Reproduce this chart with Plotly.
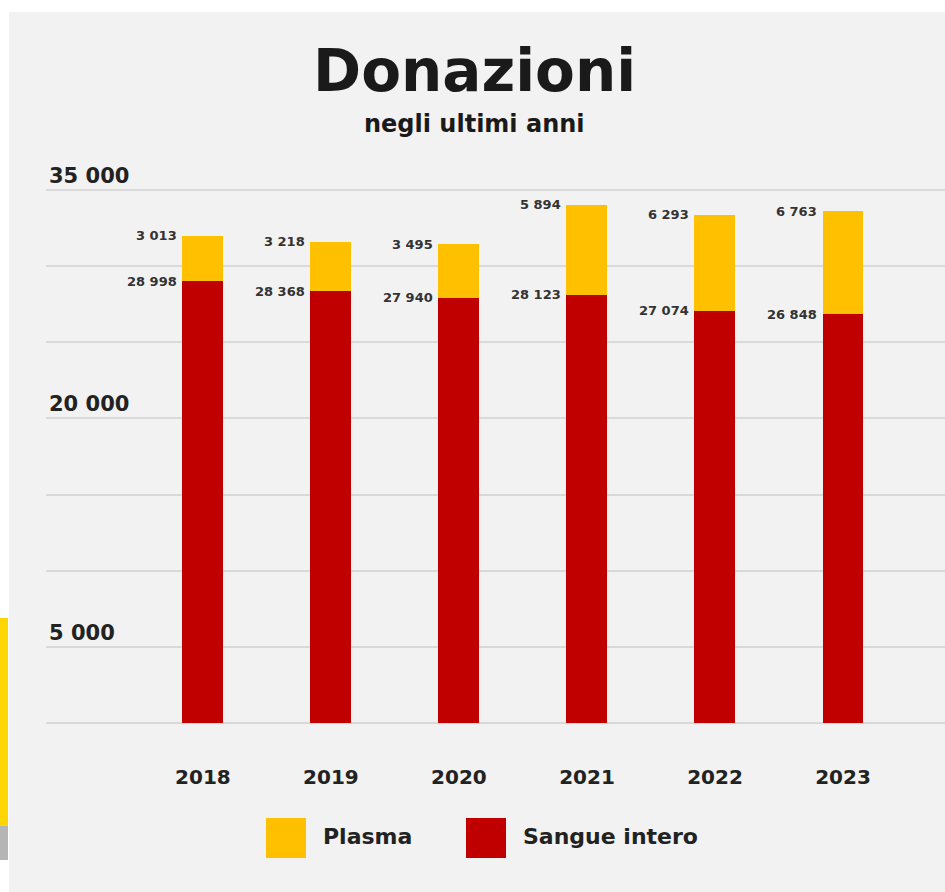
import plotly.graph_objects as go

# ---- data ----
years = ["2018", "2019", "2020", "2021", "2022", "2023"]
sangue_intero = [28998, 28368, 27940, 28123, 27074, 26848]
plasma = [3013, 3218, 3495, 5894, 6293, 6763]
series_names = ["Plasma", "Sangue intero"]
y_tick_vals = [0, 5000, 10000, 15000, 20000, 25000, 30000, 35000]
y_tick_text = ["", "5 000", "", "", "20 000", "", "", "35 000"]

RED = "#c00000"
YELLOW = "#ffc000"
TEXT = "#222222"
FONT = "DejaVu Sans"

W, H = 945, 892


def fmt(v):
    return f"{v:,}".replace(",", " ")


def px_x(p):
    return p / W


def px_y(p):
    return 1 - p / H


fig = go.Figure()
fig.add_trace(go.Bar(x=years, y=sangue_intero, name=series_names[1],
                     marker=dict(color=RED, line=dict(width=0)), width=0.32,
                     showlegend=False))
fig.add_trace(go.Bar(x=years, y=plasma, name=series_names[0],
                     marker=dict(color=YELLOW, line=dict(width=0)), width=0.32,
                     showlegend=False))

annotations = []
# value labels
lab_font = dict(family=FONT, size=13, color="#333333", weight=700)
for i, (s, p) in enumerate(zip(sangue_intero, plasma)):
    annotations.append(dict(x=i, y=s + p, xref="x", yref="y", text=fmt(p),
                            showarrow=False, xanchor="right", yanchor="middle",
                            xshift=-24, font=lab_font))
    annotations.append(dict(x=i, y=s, xref="x", yref="y", text=fmt(s),
                            showarrow=False, xanchor="right", yanchor="middle",
                            xshift=-24, font=lab_font))

# title & subtitle
annotations.append(dict(x=px_x(474), y=px_y(71), xref="paper", yref="paper",
                        text="Donazioni", showarrow=False, xanchor="center", yanchor="middle",
                        font=dict(family=FONT, size=58, color="#1a1a1a", weight=700)))
annotations.append(dict(x=px_x(474), y=px_y(124), xref="paper", yref="paper",
                        text="negli ultimi anni", showarrow=False, xanchor="center", yanchor="middle",
                        font=dict(family=FONT, size=24, color="#1a1a1a", weight=700)))

# legend (manual)
shapes = []
leg = [(series_names[0], YELLOW, 266), (series_names[1], RED, 466)]
for name, col, x0 in leg:
    shapes.append(dict(type="rect", xref="paper", yref="paper",
                       x0=px_x(x0), x1=px_x(x0 + 40), y0=px_y(858), y1=px_y(818),
                       fillcolor=col, line=dict(width=0)))
    annotations.append(dict(x=px_x(x0 + 55), y=px_y(836), xref="paper", yref="paper",
                            text=name, showarrow=False, xanchor="left", yanchor="middle",
                            font=dict(family=FONT, size=22, color=TEXT, weight=700)))

# page background decoration
shapes.insert(0, dict(type="rect", xref="paper", yref="paper", layer="below",
                      x0=px_x(9), x1=1, y0=0, y1=px_y(12),
                      fillcolor="#f2f2f2", line=dict(width=0)))
shapes.append(dict(type="rect", xref="paper", yref="paper",
                   x0=0, x1=px_x(8), y0=px_y(826), y1=px_y(618),
                   fillcolor="#ffd500", line=dict(width=0)))
shapes.append(dict(type="rect", xref="paper", yref="paper",
                   x0=0, x1=px_x(8), y0=px_y(860), y1=px_y(826),
                   fillcolor="#b5b5b5", line=dict(width=0)))

px_per_unit = (723 - 190) / 35000
y_min = -200
y_top_px = 160
y_bottom_px = 723 - y_min * px_per_unit
y_max = (723 - y_top_px) / px_per_unit

fig.update_layout(
    width=W, height=H,
    margin=dict(l=0, r=0, t=0, b=0),
    paper_bgcolor="white",
    plot_bgcolor="rgba(0,0,0,0)",
    barmode="stack",
    showlegend=False,
    font=dict(family=FONT, color=TEXT),
    xaxis=dict(type="category", domain=[px_x(46), 1], range=[-1.226, 5.797],
               showgrid=False, showline=False, zeroline=False, ticks="",
               tickfont=dict(family=FONT, size=20, color=TEXT, weight=700),
               ticklabelstandoff=37),
    yaxis=dict(domain=[px_y(y_bottom_px), px_y(y_top_px)], range=[y_min, y_max],
               tickvals=y_tick_vals, ticktext=y_tick_text,
               ticklabelposition="inside top", showgrid=True,
               gridcolor="#d9d9d9", gridwidth=1.5, zeroline=False,
               showline=False, ticks="",
               tickfont=dict(family=FONT, size=21, color=TEXT, weight=700)),
    annotations=annotations,
    shapes=shapes,
)

fig.write_html("out.html", post_script="document.body.style.margin='0';",
               config={"displayModeBar": False})
